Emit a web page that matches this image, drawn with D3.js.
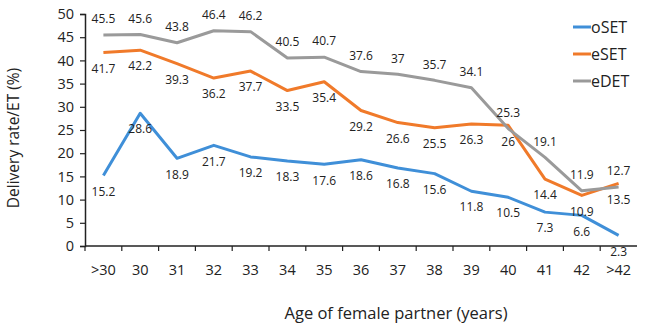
<!DOCTYPE html>
<html>
<head>
<meta charset="utf-8">
<script src="https://cdn.jsdelivr.net/npm/d3@7"></script>
<style>
  body { margin: 0; background: #fff; }
  text { font-family: "Open Sans", "DejaVu Sans", sans-serif; fill: #222; }
</style>
</head>
<body>
<div id="chart"></div>
<script>
// categories and series
const ages = [">30", "30", "31", "32", "33", "34", "35", "36", "37", "38", "39", "40", "41", "42", ">42"];
const oSET = [15.2, 28.6, 18.9, 21.7, 19.2, 18.3, 17.6, 18.6, 16.8, 15.6, 11.8, 10.5, 7.3, 6.6, 2.3];
const eSET = [41.7, 42.2, 39.3, 36.2, 37.7, 33.5, 35.4, 29.2, 26.6, 25.5, 26.3, 26, 14.4, 10.9, 13.5];
const eDET = [45.5, 45.6, 43.8, 46.4, 46.2, 40.5, 40.7, 37.6, 37, 35.7, 34.1, 25.3, 19.1, 11.9, 12.7];
const yTicks = [0, 5, 10, 15, 20, 25, 30, 35, 40, 45, 50];

const series = [
  { name: "oSET", values: oSET, color: "#3f8fd8", pos: "below" },
  { name: "eSET", values: eSET, color: "#f07a2a", pos: "below" },
  { name: "eDET", values: eDET, color: "#9a9a9a", pos: "above" }
];

let W = 646, H = 325;
let margin = { top: 14, left: 85, right: 9, bottom: 79 };
let width = W - margin.left - margin.right,
    height = H - margin.top - margin.bottom;

let svg = d3.select("#chart").append("svg")
  .attr("width", W).attr("height", H);

let g = svg.append("g").attr("transform", "translate(" + margin.left + "," + margin.top + ")");

let xScale = d3.scaleBand().domain(ages).range([0, width]);
let yScale = d3.scaleLinear().domain([0, 50]).range([height, 0]);

// y axis
let yAxis = g.append("g")
  .call(d3.axisLeft(yScale).tickValues(yTicks).tickSize(5).tickPadding(6));
yAxis.select(".domain").attr("stroke", "#222").attr("stroke-width", 1.5);
yAxis.selectAll(".tick line").attr("stroke", "#222").attr("stroke-width", 1.2);
yAxis.selectAll(".tick text").style("font-size", "14.5px").attr("fill", "#333");

// x axis: ticks on band edges like Excel
let xAxis = g.append("g").attr("transform", "translate(0," + height + ")");
xAxis.append("line").attr("x1", 0).attr("x2", width).attr("stroke", "#222").attr("stroke-width", 1.5);
xAxis.selectAll(".edge").data(ages).enter().append("line")
  .attr("class", "edge")
  .attr("x1", d => xScale(d)).attr("x2", d => xScale(d))
  .attr("y1", 0).attr("y2", 5)
  .attr("stroke", "#222").attr("stroke-width", 1.2);
xAxis.selectAll(".lab").data(ages).enter().append("text")
  .attr("class", "lab")
  .attr("x", d => xScale(d) + xScale.bandwidth() / 2)
  .attr("y", 29)
  .attr("text-anchor", "middle")
  .style("font-size", "14.5px").attr("fill", "#333")
  .text(d => d);

// lines
let line = d3.line()
  .x((d, i) => xScale(ages[i]) + xScale.bandwidth() / 2)
  .y(d => yScale(d));

series.forEach(s => {
  g.append("path")
    .datum(s.values)
    .attr("fill", "none")
    .attr("stroke", s.color)
    .attr("stroke-width", 3)
    .attr("stroke-linejoin", "round")
    .attr("d", line);
});

// data labels
series.forEach(s => {
  g.selectAll(".lbl-" + s.name).data(s.values).enter().append("text")
    .attr("class", "lbl-" + s.name)
    .attr("x", (d, i) => xScale(ages[i]) + xScale.bandwidth() / 2)
    .attr("y", d => yScale(d) + (s.pos == "above" ? -16 : 16))
    .attr("dy", "0.35em")
    .attr("text-anchor", "middle")
    .style("font-size", "12px").attr("fill", "#333")
    .text(d => d);
});

// legend
let legend = svg.append("g").attr("transform", "translate(573,27)");
series.forEach((s, i) => {
  let row = legend.append("g").attr("transform", "translate(0," + (i * 27) + ")");
  row.append("line").attr("x1", 0).attr("x2", 18).attr("stroke", s.color).attr("stroke-width", 3);
  row.append("text").attr("x", 18).attr("dy", "0.35em").style("font-size", "16px").attr("fill", "#333").text(s.name);
});

// axis titles
svg.append("text")
  .attr("transform", "translate(14,138) rotate(-90)")
  .attr("dy", "0.35em")
  .attr("text-anchor", "middle")
  .style("font-size", "15.5px")
  .text("Delivery rate/ET (%)");

svg.append("text")
  .attr("x", 396).attr("y", 313)
  .attr("dy", "0.35em")
  .attr("text-anchor", "middle")
  .style("font-size", "16.5px")
  .text("Age of female partner (years)");
</script>
</body>
</html>
